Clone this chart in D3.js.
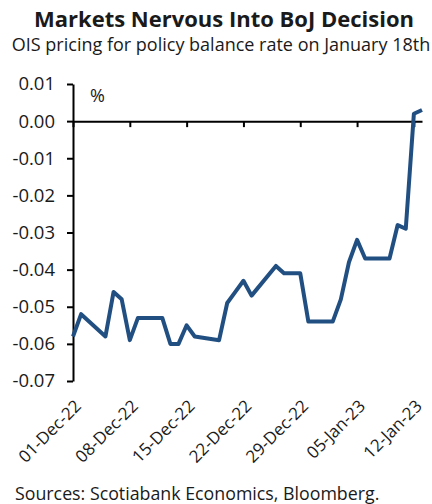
<!DOCTYPE html>
<html>
<head>
<meta charset="utf-8">
<script src="https://cdn.jsdelivr.net/npm/d3@7"></script>
<style>
  body { margin: 0; background: #fff; }
  .chart text { font-family: "Open Sans", "Noto Sans", sans-serif; fill: #1a1a1a; }
  .axis path, .axis line { stroke: #000; stroke-width: 2; }
  .line { fill: none; stroke: #214f82; stroke-width: 4; stroke-linejoin: round; }
</style>
</head>
<body>
<div class="chart"></div>
<script>
// data (trading days)
const dates = [
  "2022-12-01", "2022-12-02", "2022-12-05", "2022-12-06", "2022-12-07", "2022-12-08", "2022-12-09",
  "2022-12-12", "2022-12-13", "2022-12-14", "2022-12-15", "2022-12-16",
  "2022-12-19", "2022-12-20", "2022-12-21", "2022-12-22", "2022-12-23",
  "2022-12-26", "2022-12-27", "2022-12-28", "2022-12-29", "2022-12-30",
  "2023-01-02", "2023-01-03", "2023-01-04", "2023-01-05", "2023-01-06",
  "2023-01-09", "2023-01-10", "2023-01-11", "2023-01-12", "2023-01-13"
];
const values = [
  -0.058, -0.052, -0.058, -0.046, -0.048, -0.059, -0.053,
  -0.053, -0.060, -0.060, -0.055, -0.058,
  -0.059, -0.049, -0.046, -0.043, -0.047,
  -0.039, -0.041, -0.041, -0.041, -0.054,
  -0.054, -0.048, -0.038, -0.032, -0.037,
  -0.037, -0.028, -0.029, 0.002, 0.003
];
const xTickDates = ["2022-12-01", "2022-12-08", "2022-12-15", "2022-12-22", "2022-12-29", "2023-01-05", "2023-01-12"];
const xTickLabels = ["01-Dec-22", "08-Dec-22", "15-Dec-22", "22-Dec-22", "29-Dec-22", "05-Jan-23", "12-Jan-23"];
const yTicks = [0.01, 0.00, -0.01, -0.02, -0.03, -0.04, -0.05, -0.06, -0.07];

const parse = d3.utcParse("%Y-%m-%d");
const data = dates.map((d, i) => ({date: parse(d), value: values[i]}));

const width = 432, height = 504;
const plot = {left: 73, right: 422, top: 84, bottom: 381};

const svg = d3.select(".chart")
    .append("svg")
    .attr("width", width)
    .attr("height", height);

// titles
svg.append("text")
    .attr("x", 224).attr("y", 27)
    .attr("text-anchor", "middle")
    .style("font-size", "22px").style("font-weight", "bold")
    .text("Markets Nervous Into BoJ Decision");

svg.append("text")
    .attr("x", 221).attr("y", 51)
    .attr("text-anchor", "middle")
    .style("font-size", "18px")
    .text("OIS pricing for policy balance rate on January 18th");

// scales
const x = d3.scaleUtc()
    .domain([parse("2022-12-01"), parse("2023-01-13")])
    .range([plot.left, plot.right]);

const y = d3.scaleLinear()
    .domain([-0.07, 0.01])
    .range([plot.bottom, plot.top]);

// y axis
const yAxis = svg.append("g")
    .attr("class", "axis axis--y")
    .attr("transform", `translate(${plot.left},0)`)
    .call(d3.axisLeft(y)
        .tickValues(yTicks)
        .tickSize(6)
        .tickSizeOuter(0)
        .tickPadding(12)
        .tickFormat(d => d.toFixed(2)));
yAxis.selectAll("text").style("font-size", "18.5px").attr("fill", "#1a1a1a");

// x axis sits on zero
svg.append("g")
    .attr("class", "axis axis--x")
    .attr("transform", `translate(0,${y(0)})`)
    .call(d3.axisBottom(x)
        .tickValues(xTickDates.map(parse))
        .tickSize(6)
        .tickSizeOuter(0)
        .tickFormat(""));

// x labels at the bottom, rotated
svg.append("g")
    .selectAll("text")
    .data(xTickDates)
    .enter()
    .append("text")
    .attr("transform", d => `translate(${x(parse(d)) + 5},${plot.bottom + 22}) rotate(-45)`)
    .attr("text-anchor", "end")
    .attr("dy", "0.35em")
    .style("font-size", "17px")
    .text((d, i) => xTickLabels[i]);

// unit label
svg.append("text")
    .attr("x", 90).attr("y", 102)
    .style("font-size", "18px")
    .text("%");

// line
const line = d3.line()
    .x(d => x(d.date))
    .y(d => y(d.value));

svg.append("path")
    .datum(data)
    .attr("class", "line")
    .attr("d", line);

// source
svg.append("text")
    .attr("x", 15).attr("y", 500)
    .style("font-size", "17.8px")
    .text("Sources: Scotiabank Economics, Bloomberg.");
</script>
</body>
</html>
